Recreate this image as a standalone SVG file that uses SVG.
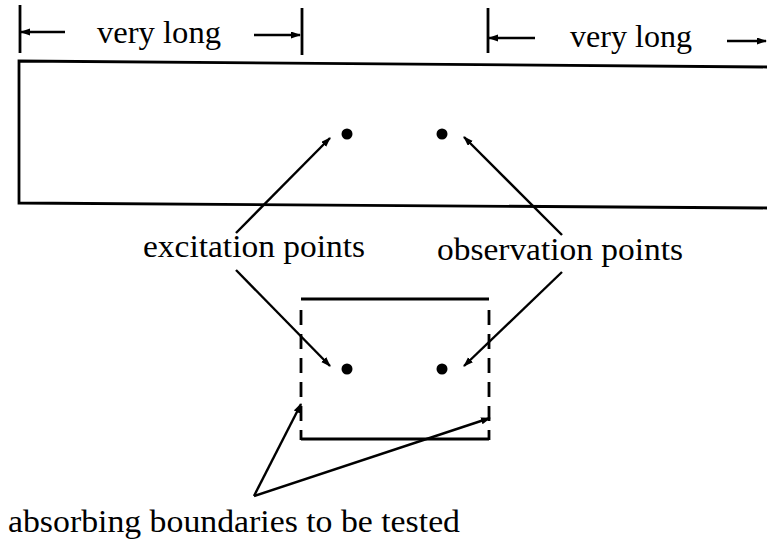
<svg xmlns="http://www.w3.org/2000/svg" width="767" height="542" viewBox="0 0 767 542">
<defs>
<marker id="ah" markerUnits="userSpaceOnUse" markerWidth="12" markerHeight="10" refX="9" refY="3.5" orient="auto">
<path d="M0,0 L10,3.5 L0,7 Z" fill="#000"/>
</marker>
<style>
.t{font-family:"Liberation Serif","Times New Roman",serif;font-size:32px;fill:#000}
.ln{stroke:#000;stroke-width:2.8;fill:none}
.ar{stroke:#000;stroke-width:2.4;fill:none;marker-end:url(#ah)}
.ds{stroke:#000;stroke-width:2.8;fill:none;stroke-dasharray:15 9}
</style>
</defs>
<rect width="767" height="542" fill="#fff"/>
<g id="dim-left">
<line class="ln" x1="20" y1="5" x2="20" y2="53"/>
<line class="ar" x1="65" y1="32" x2="21" y2="32"/>
<text class="t" x="97" y="43" textLength="124" lengthAdjust="spacingAndGlyphs">very long</text>
<line class="ar" x1="254" y1="35" x2="300" y2="35"/>
<line class="ln" x1="302" y1="8" x2="302" y2="55"/>
</g>
<g id="dim-right">
<line class="ln" x1="488" y1="8" x2="488" y2="53"/>
<line class="ar" x1="535" y1="38" x2="489" y2="38"/>
<text class="t" x="570" y="47" textLength="122" lengthAdjust="spacingAndGlyphs">very long</text>
<line class="ar" x1="727" y1="41" x2="766" y2="41"/>
</g>
<g id="domain">
<path class="ln" d="M767,67 L19,61 L19,203 L767,208"/>
</g>
<g id="box">
<line class="ln" x1="301" y1="299" x2="489" y2="299"/>
<line class="ln" x1="301" y1="439" x2="489" y2="439"/>
<line class="ds" x1="301" y1="310" x2="301" y2="440"/>
<line class="ds" x1="489" y1="310" x2="489" y2="440"/>
</g>
<g id="points">
<circle cx="347" cy="134" r="5.5"/>
<circle cx="442" cy="134" r="5.5"/>
<circle cx="347" cy="369" r="5.5"/>
<circle cx="442" cy="369" r="5.5"/>
</g>
<g id="labels">
<text class="t" x="143" y="257" textLength="222" lengthAdjust="spacingAndGlyphs">excitation points</text>
<text class="t" x="437" y="260" textLength="246" lengthAdjust="spacingAndGlyphs">observation points</text>
<text class="t" x="8" y="532" textLength="452" lengthAdjust="spacingAndGlyphs">absorbing boundaries to be tested</text>
</g>
<g id="connectors">
<line class="ar" x1="236" y1="233" x2="330" y2="138"/>
<line class="ar" x1="236" y1="270" x2="330" y2="366"/>
<line class="ar" x1="562" y1="235" x2="464" y2="137"/>
<line class="ar" x1="562" y1="272" x2="464" y2="366"/>
<line class="ar" x1="254" y1="496" x2="301" y2="404"/>
<line class="ar" x1="254" y1="496" x2="490" y2="418"/>
</g>
</svg>
